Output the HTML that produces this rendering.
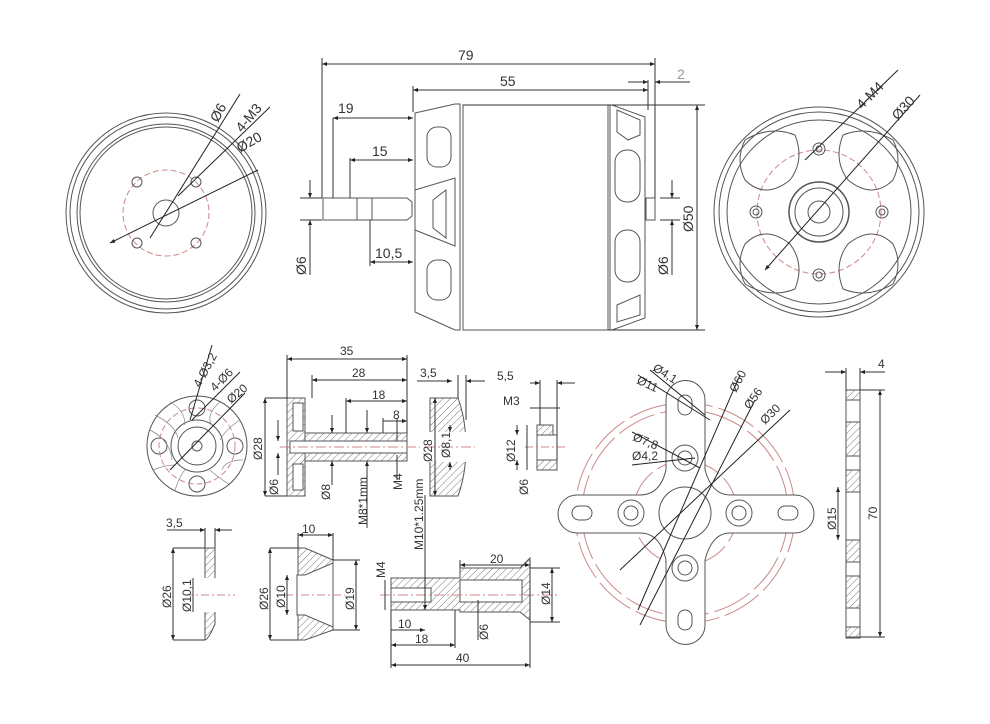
<!DOCTYPE html>
<html><head><style>
html,body{margin:0;padding:0;background:#fff;}
svg{display:block;}
text{font-family:"Liberation Sans",sans-serif;fill:#333;font-size:14px;}
.s{font-size:12px;}
</style></head><body>
<svg width="990" height="724" viewBox="0 0 990 724" xmlns="http://www.w3.org/2000/svg">
<defs>
<marker id="a" viewBox="0 0 10 10" refX="10" refY="5" markerWidth="7" markerHeight="5" orient="auto-start-reverse"><path d="M0,1L10,5L0,9z" fill="#222"/></marker>
<pattern id="h" width="5" height="5" patternUnits="userSpaceOnUse" patternTransform="rotate(45)"><line x1="0" y1="0" x2="0" y2="5" stroke="#555" stroke-width="0.8"/></pattern>
</defs>
<g fill="none" stroke="#555" stroke-width="1">
<!-- Left end view -->
<circle cx="166" cy="213" r="100"/><circle cx="166" cy="213" r="96"/><circle cx="166" cy="213" r="89"/><circle cx="166" cy="213" r="86"/>
<circle cx="166" cy="213" r="43" stroke="#c88" stroke-dasharray="6,3"/>
<circle cx="166" cy="213" r="13"/>
<circle cx="137" cy="182" r="5"/><circle cx="196" cy="182" r="5"/><circle cx="137" cy="243" r="5"/><circle cx="196" cy="243" r="5"/>
<line x1="110" y1="243" x2="258" y2="170" stroke="#222" marker-start="url(#a)"/>
<line x1="150" y1="238" x2="240" y2="94" stroke="#222"/>
<line x1="178" y1="196" x2="270" y2="107" stroke="#222"/>
<!-- motor side view -->
<path d="M323,198 L407,198 L412,202 L412,216 L407,220 L323,220 Z"/>
<line x1="357" y1="198" x2="357" y2="220"/><line x1="372" y1="198" x2="372" y2="220"/>
<path d="M415,113 L455,104 L460,104 L460,330 L455,330 L415,312 Z"/>
<path d="M415,190 L455,178 L455,246 L415,230"/>
<rect x="427" y="127" width="24" height="40" rx="10"/><rect x="427" y="260" width="24" height="40" rx="10"/>
<path d="M433,200 L446,190 L446,238 L433,228 Z"/>
<rect x="463" y="105" width="145" height="225"/>
<line x1="610" y1="105" x2="610" y2="330"/>
<path d="M612,105 L645,117 L645,318 L612,330"/>
<rect x="615" y="150" width="25" height="52" rx="12"/><rect x="615" y="230" width="25" height="52" rx="12"/>
<path d="M617,110 L640,120 L640,135 L628,140 L617,132Z"/><path d="M617,305 L640,295 L640,315 L617,322Z"/>
<rect x="646" y="198" width="9" height="22"/>
<!-- right end view -->
<circle cx="819" cy="212" r="105"/><circle cx="819" cy="212" r="100"/><circle cx="819" cy="212" r="92"/>
<circle cx="819" cy="212" r="62" stroke="#c88" stroke-dasharray="6,3"/>
<circle cx="819" cy="212" r="30" stroke-width="1.5"/><circle cx="819" cy="212" r="24"/><circle cx="819" cy="212" r="11"/>
<circle cx="819" cy="149" r="6"/><circle cx="819" cy="149" r="3"/><circle cx="819" cy="275" r="6"/><circle cx="819" cy="275" r="3"/>
<circle cx="756" cy="212" r="6"/><circle cx="756" cy="212" r="3"/><circle cx="882" cy="212" r="6"/><circle cx="882" cy="212" r="3"/>
<path d="M745,140 Q770,125 795,135 Q805,160 790,180 Q765,200 745,180 Q735,160 745,140Z"/>
<path d="M893,140 Q868,125 843,135 Q833,160 848,180 Q873,200 893,180 Q903,160 893,140Z"/>
<path d="M745,284 Q770,299 795,289 Q805,264 790,244 Q765,224 745,244 Q735,264 745,284Z"/>
<path d="M893,284 Q868,299 843,289 Q833,264 848,244 Q873,224 893,244 Q903,264 893,284Z"/>
<line x1="765" y1="270" x2="920" y2="95" stroke="#222" marker-start="url(#a)"/>
<line x1="805" y1="160" x2="898" y2="70" stroke="#222"/>
<!-- Dimension lines motor -->
<g stroke="#333">
<line x1="322" y1="58" x2="322" y2="198"/><line x1="655" y1="58" x2="655" y2="198"/><line x1="648" y1="80" x2="648" y2="110"/><line x1="413" y1="86" x2="413" y2="112"/>
<line x1="322" y1="64" x2="655" y2="64" marker-start="url(#a)" marker-end="url(#a)"/>
<line x1="413" y1="90" x2="648" y2="90" marker-start="url(#a)" marker-end="url(#a)"/>
<line x1="628" y1="82" x2="648" y2="82" marker-end="url(#a)"/><line x1="690" y1="82" x2="655" y2="82" marker-end="url(#a)"/>
<line x1="333" y1="118" x2="333" y2="198"/><line x1="333" y1="118" x2="413" y2="118" marker-start="url(#a)" marker-end="url(#a)"/>
<line x1="350" y1="158" x2="350" y2="198"/><line x1="350" y1="160" x2="413" y2="160" marker-start="url(#a)" marker-end="url(#a)"/>
<line x1="370" y1="220" x2="370" y2="266"/><line x1="370" y1="262" x2="413" y2="262" marker-start="url(#a)" marker-end="url(#a)"/>
<line x1="300" y1="198" x2="322" y2="198"/><line x1="300" y1="220" x2="322" y2="220"/>
<line x1="310" y1="180" x2="310" y2="198" marker-end="url(#a)"/><line x1="310" y1="275" x2="310" y2="220" marker-end="url(#a)"/>
<line x1="660" y1="198" x2="680" y2="198"/><line x1="660" y1="220" x2="680" y2="220"/>
<line x1="672" y1="180" x2="672" y2="198" marker-end="url(#a)"/><line x1="672" y1="275" x2="672" y2="220" marker-end="url(#a)"/>
<line x1="463" y1="105" x2="705" y2="105"/><line x1="608" y1="330" x2="705" y2="330"/>
<line x1="697" y1="105" x2="697" y2="330" marker-start="url(#a)" marker-end="url(#a)"/>
</g>
<!-- bottom: hub front view -->
<circle cx="197" cy="446" r="50"/><circle cx="197" cy="446" r="26"/><circle cx="197" cy="446" r="19"/><circle cx="197" cy="446" r="5"/>
<circle cx="197" cy="408" r="8"/><circle cx="197" cy="484" r="8"/><circle cx="159" cy="446" r="8"/><circle cx="235" cy="446" r="8"/>
<circle cx="197" cy="446" r="38" stroke="#c88" stroke-dasharray="6,3"/>
<g stroke="#888" stroke-width="0.7">
<path d="M150,430 Q170,440 172,460"/><path d="M155,415 Q175,425 178,438"/><path d="M170,402 Q185,410 185,425"/><path d="M220,402 Q205,415 212,425"/><path d="M240,420 Q225,430 220,440"/><path d="M243,460 Q225,460 222,470"/><path d="M230,485 Q215,475 210,470"/><path d="M175,490 Q180,475 185,470"/><path d="M153,470 Q165,465 175,465"/>
</g>
<line x1="170" y1="470" x2="245" y2="393" stroke="#222"/><line x1="190" y1="420" x2="212" y2="345" stroke="#222"/><line x1="192" y1="420" x2="240" y2="372" stroke="#222"/>
<!-- prop adapter section -->
<rect x="287" y="398" width="18" height="98" fill="url(#h)"/>
<rect x="305" y="433" width="102" height="28" fill="url(#h)"/>
<rect x="293" y="403" width="10" height="28" fill="#fff"/><rect x="293" y="464" width="10" height="26" fill="#fff"/>
<rect x="290" y="441" width="117" height="12" fill="#fff"/>
<line x1="280" y1="447" x2="420" y2="447" stroke="#c88" stroke-dasharray="10,3,2,3"/>
<!-- washer 28 -->
<path d="M430,398 L458,398 Q466,420 466,447 Q466,474 458,496 L430,496 Z" fill="url(#h)"/>
<rect x="429" y="432" width="38" height="30" fill="#fff" stroke="none"/>
<line x1="425" y1="447" x2="475" y2="447" stroke="#c88" stroke-dasharray="10,3,2,3"/>
<!-- nut -->
<rect x="537" y="425" width="16" height="10" fill="url(#h)"/><rect x="537" y="460" width="20" height="10" fill="url(#h)"/><rect x="537" y="435" width="20" height="25"/>
<line x1="525" y1="447" x2="565" y2="447" stroke="#c88" stroke-dasharray="8,3,2,3"/>
<!-- washer 26 -->
<path d="M205,548 L215,548 L215,624 Q208,640 205,640 Z" fill="url(#h)"/>
<rect x="203" y="578" width="14" height="34" fill="#fff" stroke="none"/>
<line x1="185" y1="595" x2="235" y2="595" stroke="#c88" stroke-dasharray="8,3,2,3"/>
<!-- cone washer -->
<path d="M298,548 L305,548 L333,560 L333,630 L305,640 L298,640 Z" fill="url(#h)"/>
<path d="M297,575 L305,575 L333,563 L333,627 L305,615 L297,615 Z" fill="#fff"/>
<line x1="285" y1="595" x2="345" y2="595" stroke="#c88" stroke-dasharray="8,3,2,3"/>
<!-- long adapter -->
<path d="M391,578 L460,578 L460,568 L520,568 L530,558 L530,620 L520,612 L460,612 L460,610 L391,610 Z" fill="url(#h)"/>
<rect x="391" y="588" width="40" height="14" fill="#fff"/><rect x="460" y="580" width="62" height="22" fill="#fff"/>
<line x1="380" y1="595" x2="560" y2="595" stroke="#c88" stroke-dasharray="10,3,2,3"/>
<!-- cross mount -->
<circle cx="685" cy="513" r="110" stroke="#c88" stroke-dasharray="40,6"/><circle cx="685" cy="513" r="103" stroke="#c88" stroke-dasharray="40,6"/>
<circle cx="685" cy="513" r="52" stroke="#c88" stroke-dasharray="30,6"/>
<path d="M666,400 A19,19 0 0 1 705,400 L705,470 Q712,495 730,495 L795,495 A19,19 0 0 1 795,533 L730,533 Q712,533 705,560 L705,625 A19,19 0 0 1 666,625 L666,560 Q660,533 640,533 L577,533 A19,19 0 0 1 577,495 L640,495 Q660,495 666,470 Z" fill="#fff"/>
<circle cx="685" cy="513" r="26"/>
<rect x="678" y="395" width="14" height="20" rx="7"/><rect x="678" y="610" width="14" height="20" rx="7"/>
<rect x="572" y="506" width="20" height="14" rx="7"/><rect x="778" y="506" width="20" height="14" rx="7"/>
<circle cx="685" cy="458" r="13"/><circle cx="685" cy="458" r="7"/><circle cx="685" cy="568" r="13"/><circle cx="685" cy="568" r="7"/>
<circle cx="631" cy="513" r="13"/><circle cx="631" cy="513" r="7"/><circle cx="739" cy="513" r="13"/><circle cx="739" cy="513" r="7"/>
<g stroke="#222">
<line x1="638" y1="375" x2="710" y2="420"/><line x1="650" y1="370" x2="705" y2="415"/>
<line x1="632" y1="432" x2="700" y2="468"/><line x1="632" y1="465" x2="695" y2="458"/>
<line x1="638" y1="610" x2="740" y2="375"/><line x1="640" y1="625" x2="755" y2="400"/><line x1="620" y1="570" x2="790" y2="410"/>
</g>
<!-- plate side -->
<rect x="846" y="390" width="14" height="248"/>
<rect x="846" y="390" width="14" height="10" fill="url(#h)"/><rect x="846" y="422" width="14" height="34" fill="url(#h)"/><rect x="846" y="470" width="14" height="22" fill="url(#h)"/>
<rect x="846" y="540" width="14" height="22" fill="url(#h)"/><rect x="846" y="576" width="14" height="32" fill="url(#h)"/><rect x="846" y="627" width="14" height="10" fill="url(#h)"/>
<!-- bottom dimension lines -->
<g stroke="#333">
<line x1="287" y1="355" x2="287" y2="398"/><line x1="407" y1="355" x2="407" y2="433"/><line x1="312" y1="375" x2="312" y2="398"/><line x1="346" y1="398" x2="346" y2="433"/><line x1="383" y1="418" x2="383" y2="433"/>
<line x1="287" y1="359" x2="407" y2="359" marker-start="url(#a)" marker-end="url(#a)"/>
<line x1="312" y1="380" x2="407" y2="380" marker-start="url(#a)" marker-end="url(#a)"/>
<line x1="346" y1="401" x2="407" y2="401" marker-start="url(#a)" marker-end="url(#a)"/>
<line x1="383" y1="421" x2="407" y2="421" marker-end="url(#a)"/>
<line x1="265" y1="398" x2="287" y2="398"/><line x1="265" y1="496" x2="287" y2="496"/>
<line x1="265" y1="398" x2="265" y2="496" marker-start="url(#a)" marker-end="url(#a)"/>
<line x1="278" y1="420" x2="278" y2="441" marker-end="url(#a)"/><line x1="278" y1="475" x2="278" y2="453" marker-end="url(#a)"/>
<line x1="332" y1="415" x2="332" y2="433" marker-end="url(#a)"/><line x1="332" y1="485" x2="332" y2="461" marker-end="url(#a)"/>
<line x1="367" y1="410" x2="367" y2="433" marker-end="url(#a)"/><line x1="367" y1="528" x2="367" y2="461" marker-end="url(#a)"/>
<line x1="397" y1="418" x2="397" y2="441"/><line x1="397" y1="455" x2="397" y2="480"/>
<line x1="417" y1="381" x2="452" y2="381" marker-end="url(#a)"/><line x1="485" y1="381" x2="466" y2="381" marker-end="url(#a)"/><line x1="458" y1="375" x2="458" y2="398"/><line x1="466" y1="375" x2="466" y2="420"/>
<line x1="435" y1="398" x2="435" y2="496" marker-start="url(#a)" marker-end="url(#a)"/>
<line x1="450" y1="425" x2="450" y2="432" marker-end="url(#a)"/><line x1="450" y1="470" x2="450" y2="462" marker-end="url(#a)"/>
<line x1="530" y1="383" x2="540" y2="383" marker-end="url(#a)"/><line x1="575" y1="383" x2="557" y2="383" marker-end="url(#a)"/><line x1="540" y1="380" x2="540" y2="425"/><line x1="557" y1="380" x2="557" y2="460"/>
<line x1="530" y1="408" x2="560" y2="408"/>
<line x1="517" y1="425" x2="517" y2="435" marker-end="url(#a)"/><line x1="517" y1="470" x2="517" y2="460" marker-end="url(#a)"/>
<line x1="527" y1="425" x2="527" y2="470"/>
<line x1="167" y1="530" x2="205" y2="530" marker-end="url(#a)"/><line x1="232" y1="530" x2="215" y2="530" marker-end="url(#a)"/><line x1="205" y1="528" x2="205" y2="548"/><line x1="215" y1="528" x2="215" y2="548"/>
<line x1="173" y1="548" x2="205" y2="548"/><line x1="173" y1="640" x2="205" y2="640"/>
<line x1="173" y1="548" x2="173" y2="640" marker-start="url(#a)" marker-end="url(#a)"/>
<line x1="193" y1="578" x2="193" y2="612"/>
<line x1="298" y1="535" x2="333" y2="535" marker-start="url(#a)" marker-end="url(#a)"/><line x1="298" y1="533" x2="298" y2="548"/><line x1="333" y1="533" x2="333" y2="560"/>
<line x1="270" y1="548" x2="298" y2="548"/><line x1="270" y1="640" x2="298" y2="640"/>
<line x1="270" y1="548" x2="270" y2="640" marker-start="url(#a)" marker-end="url(#a)"/>
<line x1="287" y1="575" x2="287" y2="615" marker-start="url(#a)" marker-end="url(#a)"/>
<line x1="333" y1="560" x2="360" y2="560"/><line x1="333" y1="630" x2="360" y2="630"/>
<line x1="356" y1="560" x2="356" y2="630" marker-start="url(#a)" marker-end="url(#a)"/>
<line x1="391" y1="610" x2="391" y2="668"/><line x1="530" y1="560" x2="530" y2="668"/><line x1="460" y1="560" x2="460" y2="568"/>
<line x1="460" y1="565" x2="530" y2="565" marker-start="url(#a)" marker-end="url(#a)"/>
<line x1="391" y1="630" x2="425" y2="630" marker-end="url(#a)"/>
<line x1="391" y1="645" x2="455" y2="645" marker-start="url(#a)" marker-end="url(#a)"/><line x1="455" y1="610" x2="455" y2="648"/>
<line x1="391" y1="665" x2="530" y2="665" marker-start="url(#a)" marker-end="url(#a)"/>
<line x1="530" y1="568" x2="560" y2="568"/><line x1="530" y1="622" x2="560" y2="622"/>
<line x1="552" y1="568" x2="552" y2="622" marker-start="url(#a)" marker-end="url(#a)"/>
<line x1="425" y1="495" x2="425" y2="610" marker-end="url(#a)"/>
<line x1="385" y1="580" x2="385" y2="610"/>
<line x1="478" y1="600" x2="478" y2="640"/>
<line x1="825" y1="372" x2="846" y2="372" marker-end="url(#a)"/><line x1="885" y1="372" x2="860" y2="372" marker-end="url(#a)"/><line x1="846" y1="368" x2="846" y2="390"/><line x1="860" y1="368" x2="860" y2="390"/>
<line x1="860" y1="390" x2="885" y2="390"/><line x1="860" y1="637" x2="885" y2="637"/>
<line x1="880" y1="390" x2="880" y2="637" marker-start="url(#a)" marker-end="url(#a)"/>
<line x1="838" y1="487" x2="838" y2="540" marker-start="url(#a)" marker-end="url(#a)"/>
</g>
</g>
<!-- Labels -->
<text x="458" y="60">79</text><text x="500" y="86">55</text><text x="677" y="79" style="fill:#999">2</text>
<text x="338" y="113">19</text><text x="372" y="156">15</text><text x="375" y="258">10,5</text>
<text transform="translate(306,275) rotate(-90)">Ø6</text><text transform="translate(668,275) rotate(-90)">Ø6</text><text transform="translate(693,232) rotate(-90)">Ø50</text>
<text transform="translate(218,123) rotate(-62)">Ø6</text><text transform="translate(242,133) rotate(-50)">4-M3</text><text transform="translate(240,153) rotate(-30)">Ø20</text>
<text transform="translate(862,110) rotate(-45)">4-M4</text><text transform="translate(898,121) rotate(-48)">Ø30</text>
<text class="s" transform="translate(200,388) rotate(-62)">4-Ø3,2</text><text class="s" transform="translate(215,392) rotate(-45)">4-Ø6</text><text class="s" transform="translate(231,404) rotate(-40)">Ø20</text>
<text class="s" x="340" y="355">35</text><text class="s" x="352" y="377">28</text><text class="s" x="372" y="399">18</text><text class="s" x="393" y="419">8</text>
<text class="s" transform="translate(262,460) rotate(-90)">Ø28</text><text class="s" transform="translate(278,495) rotate(-90)">Ø6</text><text class="s" transform="translate(330,500) rotate(-90)">Ø8</text>
<text class="s" transform="translate(367,525) rotate(-90)">M8*1mm</text><text class="s" transform="translate(402,490) rotate(-90)">M4</text>
<text class="s" x="420" y="377">3,5</text><text class="s" transform="translate(432,462) rotate(-90)">Ø28</text><text class="s" transform="translate(450,458) rotate(-90)">Ø8,1</text>
<text class="s" x="497" y="380">5,5</text><text class="s" x="503" y="405">M3</text><text class="s" transform="translate(515,462) rotate(-90)">Ø12</text><text class="s" transform="translate(528,495) rotate(-90)">Ø6</text>
<text class="s" x="166" y="527">3,5</text><text class="s" transform="translate(171,608) rotate(-90)">Ø26</text><text class="s" transform="translate(191,612) rotate(-90)">Ø10,1</text>
<text class="s" x="302" y="533">10</text><text class="s" transform="translate(268,610) rotate(-90)">Ø26</text><text class="s" transform="translate(285,608) rotate(-90)">Ø10</text><text class="s" transform="translate(354,610) rotate(-90)">Ø19</text>
<text class="s" transform="translate(423,550) rotate(-90)">M10*1.25mm</text><text class="s" transform="translate(385,578) rotate(-90)">M4</text>
<text class="s" x="490" y="563">20</text><text class="s" x="398" y="628">10</text><text class="s" x="415" y="643">18</text><text class="s" x="456" y="662">40</text>
<text class="s" transform="translate(488,640) rotate(-90)">Ø6</text><text class="s" transform="translate(550,605) rotate(-90)">Ø14</text>
<text class="s" transform="translate(636,383) rotate(25)">Ø11</text><text class="s" transform="translate(652,370) rotate(32)">Ø4,1</text>
<text class="s" transform="translate(632,440) rotate(22)">Ø7,8</text><text class="s" x="632" y="460">Ø4,2</text>
<text class="s" transform="translate(736,393) rotate(-62)">Ø60</text><text class="s" transform="translate(750,410) rotate(-55)">Ø56</text><text class="s" transform="translate(765,425) rotate(-45)">Ø30</text>
<text class="s" x="878" y="368">4</text><text class="s" transform="translate(836,530) rotate(-90)">Ø15</text><text class="s" transform="translate(877,520) rotate(-90)">70</text>
</svg>
</body></html>
